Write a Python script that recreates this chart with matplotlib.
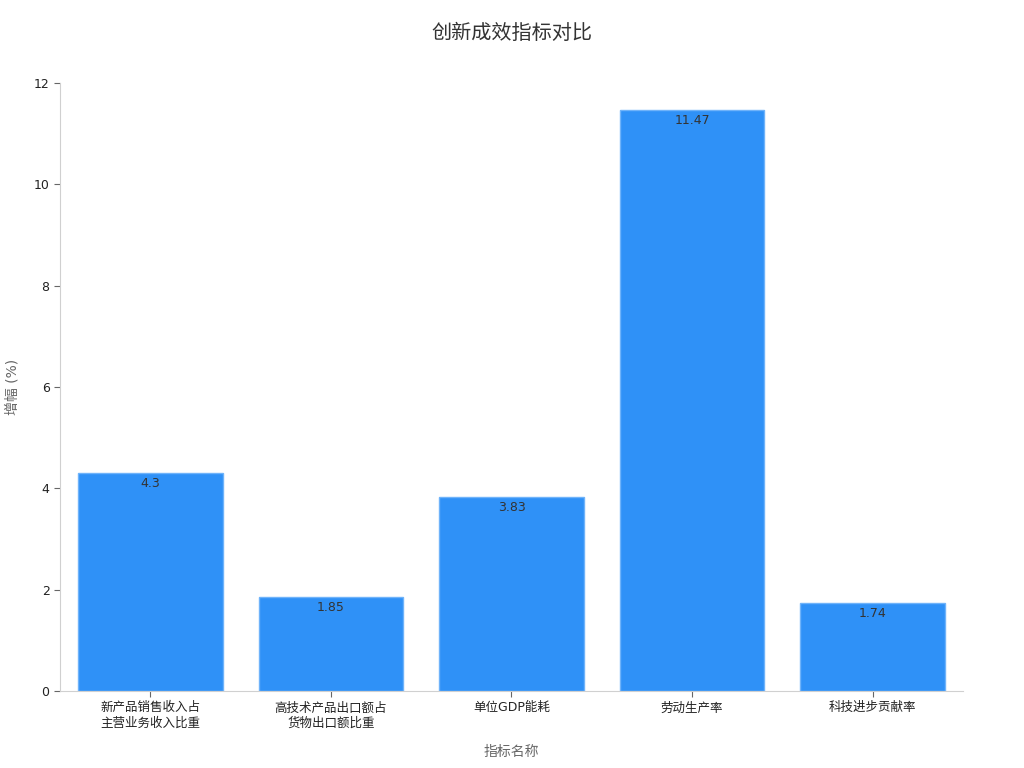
import matplotlib
matplotlib.use('Agg')
from matplotlib import pyplot as plt

plt.rcParams['font.family'] = ['DejaVu Sans', 'Noto Sans CJK SC']

# 数据
categories = ['新产品销售收入占\n主营业务收入比重', '高技术产品出口额占\n货物出口额比重',
              '单位GDP能耗', '劳动生产率', '科技进步贡献率']
values = [4.3, 1.85, 3.83, 11.47, 1.74]
value_labels = ['4.3', '1.85', '3.83', '11.47', '1.74']

fig = plt.figure(figsize=(10.24, 7.68), dpi=100)
ax = fig.add_axes([0.0586, 0.1003, 0.8818, 0.7917])

x = list(range(len(categories)))
bars = ax.bar(x, values, width=0.8, color='#2f91f7', edgecolor='#6fb3fa', linewidth=1)

for rect, lab in zip(bars, value_labels):
    ax.annotate(lab, (rect.get_x() + rect.get_width() / 2, rect.get_height()),
                xytext=(0, -3), textcoords='offset points',
                ha='center', va='top', fontsize=9, color='#333333')

ax.set_xlim(-0.5, len(categories) - 0.5)
ax.set_ylim(0, 12)
ax.set_yticks([0, 2, 4, 6, 8, 10, 12])
ax.set_xticks(x)
ax.set_xticklabels(categories, fontsize=9, color='#222222')
ax.tick_params(axis='y', labelsize=9, labelcolor='#222222', color='#666666', length=4)
ax.tick_params(axis='x', color='#666666', length=4)

for s in ['top', 'right']:
    ax.spines[s].set_visible(False)
for s in ['left', 'bottom']:
    ax.spines[s].set_color('#d0d0d0')

ax.set_ylabel('增幅 (%)', fontsize=10, color='#666666', labelpad=10)
ax.set_xlabel('指标名称', fontsize=10, color='#666666', labelpad=11)
fig.text(0.5, 0.957, '创新成效指标对比', ha='center', va='center', fontsize=14.5, color='#333333')

plt.savefig('out.png', dpi=100)
